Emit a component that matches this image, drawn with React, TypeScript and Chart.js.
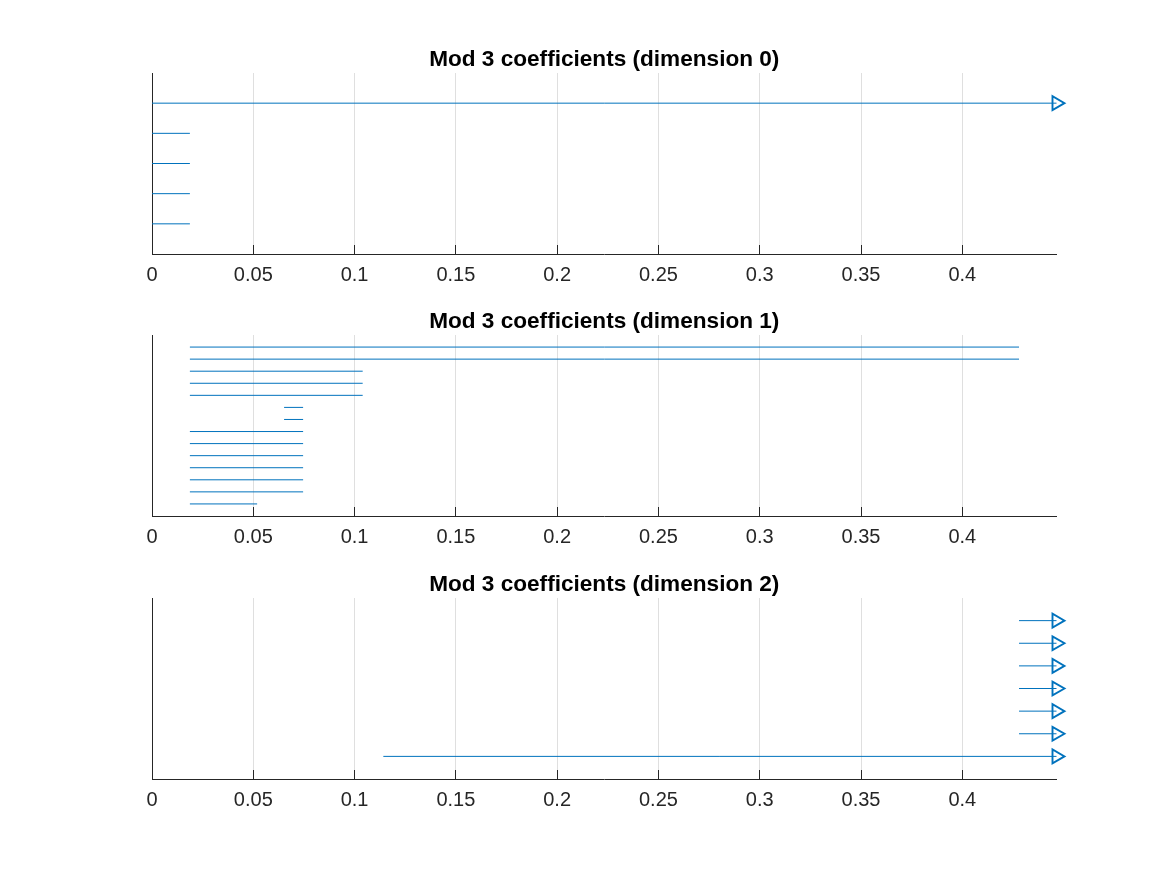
import React, { useEffect, useRef } from 'react';
import { Chart, registerables } from 'chart.js';

Chart.register(...registerables);

const FONT = '"Liberation Sans", Arial, Helvetica, sans-serif';
const BAR_COLOR = '#0072bd';
const X_MAX = 0.4465;
const X_STEP = 0.05;

const TITLES = [
  'Mod 3 coefficients (dimension 0)',
  'Mod 3 coefficients (dimension 1)',
  'Mod 3 coefficients (dimension 2)',
];

// Bars listed from top to bottom; Infinity = bar never dies (arrow)
const dim0Births = [0, 0, 0, 0, 0];
const dim0Deaths = [Infinity, 0.0187, 0.0187, 0.0187, 0.0187];

const dim1Births = [
  0.0187, 0.0187, 0.0187, 0.0187, 0.0187, 0.0652, 0.0652,
  0.0187, 0.0187, 0.0187, 0.0187, 0.0187, 0.0187, 0.0187,
];
const dim1Deaths = [
  0.428, 0.428, 0.104, 0.104, 0.104, 0.0746, 0.0746,
  0.0746, 0.0746, 0.0746, 0.0746, 0.0746, 0.0746, 0.0519,
];

const dim2Births = [0.428, 0.428, 0.428, 0.428, 0.428, 0.428, 0.1142];
const dim2Deaths = [Infinity, Infinity, Infinity, Infinity, Infinity, Infinity, Infinity];

const PANELS = [
  { title: TITLES[0], births: dim0Births, deaths: dim0Deaths, top: 23 },
  { title: TITLES[1], births: dim1Births, deaths: dim1Deaths, top: 285 },
  { title: TITLES[2], births: dim2Births, deaths: dim2Deaths, top: 548 },
];

const CANVAS_W = 1167;
const TOP_SPACE = 50;
const PLOT_H = 181;
const AXIS_H = 36;
const CANVAS_H = TOP_SPACE + PLOT_H + AXIS_H;
const TITLE_SIZE = 22.6;
const TITLE_PAD_TOP = 23.6;

function buildDatasets(births: number[], deaths: number[]) {
  const n = births.length;
  return births.map((b, i) => {
    const d = deaths[i];
    const inf = !isFinite(d);
    const y = n - i;
    return {
      data: [
        { x: b, y },
        { x: inf ? X_MAX : d, y },
      ],
      borderColor: BAR_COLOR,
      borderWidth: 1,
      backgroundColor: 'rgba(0,0,0,0)',
      fill: false,
      tension: 0,
      clip: false as any,
      pointRadius: [0, inf ? 8 : 0],
      pointStyle: 'triangle',
      pointRotation: 90,
      pointBorderWidth: 1.9,
      pointBorderColor: BAR_COLOR,
      pointBackgroundColor: 'rgba(0,0,0,0)',
    };
  });
}

const tickMarks = {
  id: 'tickMarks',
  afterDraw(chart: any) {
    const { ctx, chartArea } = chart;
    const xs = chart.scales.x;
    ctx.save();
    ctx.strokeStyle = '#262626';
    ctx.lineWidth = 1;
    ctx.beginPath();
    xs.ticks.forEach((t: any) => {
      const px = Math.round(xs.getPixelForValue(t.value) - 0.5) + 0.5;
      ctx.moveTo(px, chartArea.bottom);
      ctx.lineTo(px, chartArea.bottom - 9);
    });
    ctx.stroke();
    ctx.restore();
  },
};

function Panel({ title, births, deaths, top }: { title: string; births: number[]; deaths: number[]; top: number }) {
  const ref = useRef<HTMLCanvasElement | null>(null);
  useEffect(() => {
    if (!ref.current) return;
    const n = births.length;
    const chart = new Chart(ref.current, {
      type: 'line',
      data: { datasets: buildDatasets(births, deaths) as any },
      options: {
        animation: false,
        responsive: false,
        events: [],
        layout: { padding: { left: 152, right: CANVAS_W - 1056.5, top: 0, bottom: 0 } },
        scales: {
          x: {
            type: 'linear',
            min: 0,
            max: X_MAX,
            ticks: {
              stepSize: X_STEP,
              includeBounds: false,
              autoSkip: false,
              maxRotation: 0,
              color: '#262626',
              padding: 9,
              font: { family: FONT, size: 20 },
              callback: (v: any) => String(Number(Number(v).toFixed(2))),
            },
            grid: { color: '#dfdfdf', lineWidth: 1, drawTicks: false },
            border: { display: true, color: '#262626', width: 1 },
            afterFit: (s: any) => {
              s.height = AXIS_H;
            },
          },
          y: {
            type: 'linear',
            min: 0,
            max: n + 1,
            ticks: { display: false },
            grid: { display: false, drawTicks: false },
            border: { display: true, color: '#262626', width: 1 },
            afterFit: (s: any) => {
              s.width = 0;
            },
          },
        },
        plugins: {
          legend: { display: false },
          tooltip: { enabled: false },
          title: {
            display: true,
            text: title,
            color: '#000000',
            font: { family: FONT, size: TITLE_SIZE, weight: 'bold', lineHeight: 1.2 },
            padding: { top: TITLE_PAD_TOP, bottom: TOP_SPACE - TITLE_PAD_TOP - TITLE_SIZE * 1.2 },
          },
        },
      } as any,
      plugins: [tickMarks],
    });
    return () => chart.destroy();
  }, [title, births, deaths]);
  return (
    <canvas
      ref={ref}
      width={CANVAS_W}
      height={CANVAS_H}
      style={{ position: 'absolute', left: 0, top, width: CANVAS_W, height: CANVAS_H }}
    />
  );
}

export default function App() {
  return (
    <div style={{ position: 'absolute', left: 0, top: 0, width: 1167, height: 875, background: '#ffffff' }}>
      {PANELS.map((p) => (
        <Panel key={p.title} title={p.title} births={p.births} deaths={p.deaths} top={p.top} />
      ))}
    </div>
  );
}
